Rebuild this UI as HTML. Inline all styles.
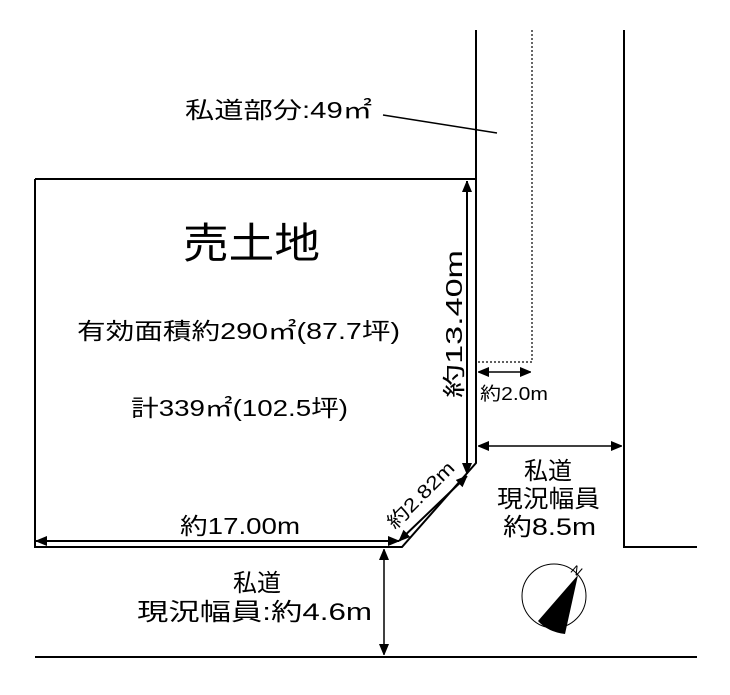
<!DOCTYPE html>
<html><head><meta charset="utf-8"><style>
body{margin:0;background:#fff}
svg text{font-family:"Liberation Sans","Noto Sans CJK JP",sans-serif;fill:#000}
</style></head><body>
<svg width="730" height="690" viewBox="0 0 730 690" xmlns="http://www.w3.org/2000/svg">
<defs>
<marker id="a" markerWidth="10" markerHeight="12" refX="11" refY="5" orient="auto-start-reverse" markerUnits="userSpaceOnUse"><path d="M0,0L12,5L0,10Z" fill="#000"/></marker>
</defs>
<g stroke="#000" stroke-width="2" fill="none">
<path d="M35,179H476M476,30V463L402,547H35V179"/>
<path d="M624,30V547H697M35,657H697"/>
<path d="M383,115L497,133" stroke-width="1.5"/>
<path d="M532,30V362H476" stroke-width="1.2" stroke-dasharray="2,2"/>
</g>
<g stroke="#000" stroke-width="1.5" fill="none">
<line x1="467" y1="181" x2="467" y2="474" marker-start="url(#a)" marker-end="url(#a)" stroke-width="2"/>
<line x1="399" y1="541" x2="467" y2="476" marker-start="url(#a)" marker-end="url(#a)" stroke-width="2"/>
<line x1="36" y1="541" x2="399" y2="541" marker-start="url(#a)" marker-end="url(#a)" stroke-width="2"/>
<line x1="478" y1="372" x2="531" y2="372" marker-start="url(#a)" marker-end="url(#a)"/>
<line x1="478" y1="446" x2="622" y2="446" marker-start="url(#a)" marker-end="url(#a)"/>
<line x1="384" y1="549" x2="384" y2="655" marker-start="url(#a)" marker-end="url(#a)"/>
<circle cx="554" cy="596" r="32" stroke-width="1"/>
</g>
<path d="M578,575L538,621Q548,632 565,634Z" fill="#000"/>
<text x="572" y="575" font-size="13" font-style="italic" font-family="Liberation Serif,serif" transform="rotate(30 577 570)">N</text>
<g lengthAdjust="spacingAndGlyphs">
<text x="185" y="118" font-size="23" textLength="187" lengthAdjust="spacingAndGlyphs">私道部分:49㎡</text>
<text x="183" y="258" font-size="42" textLength="137" lengthAdjust="spacingAndGlyphs">売土地</text>
<text x="77" y="339" font-size="23" textLength="323" lengthAdjust="spacingAndGlyphs">有効面積約290㎡(87.7坪)</text>
<text x="131" y="416" font-size="23" textLength="217" lengthAdjust="spacingAndGlyphs">計339㎡(102.5坪)</text>
<text font-size="23" transform="translate(462,398) rotate(-90)" textLength="148" lengthAdjust="spacingAndGlyphs">約13.40m</text>
<text font-size="19" transform="translate(395,530) rotate(-45)" textLength="86" lengthAdjust="spacingAndGlyphs">約2.82m</text>
<text x="180" y="534" font-size="23" textLength="120" lengthAdjust="spacingAndGlyphs">約17.00m</text>
<text x="480" y="400" font-size="18" textLength="68" lengthAdjust="spacingAndGlyphs">約2.0m</text>
<text x="548" y="479" font-size="24" text-anchor="middle">私道</text>
<text x="497" y="507" font-size="24" textLength="103" lengthAdjust="spacingAndGlyphs">現況幅員</text>
<text x="503" y="535" font-size="24" textLength="93" lengthAdjust="spacingAndGlyphs">約8.5m</text>
<text x="257" y="591" font-size="24" text-anchor="middle">私道</text>
<text x="137" y="620" font-size="24" textLength="235" lengthAdjust="spacingAndGlyphs">現況幅員:約4.6m</text>
</g>
</svg>
</body></html>
